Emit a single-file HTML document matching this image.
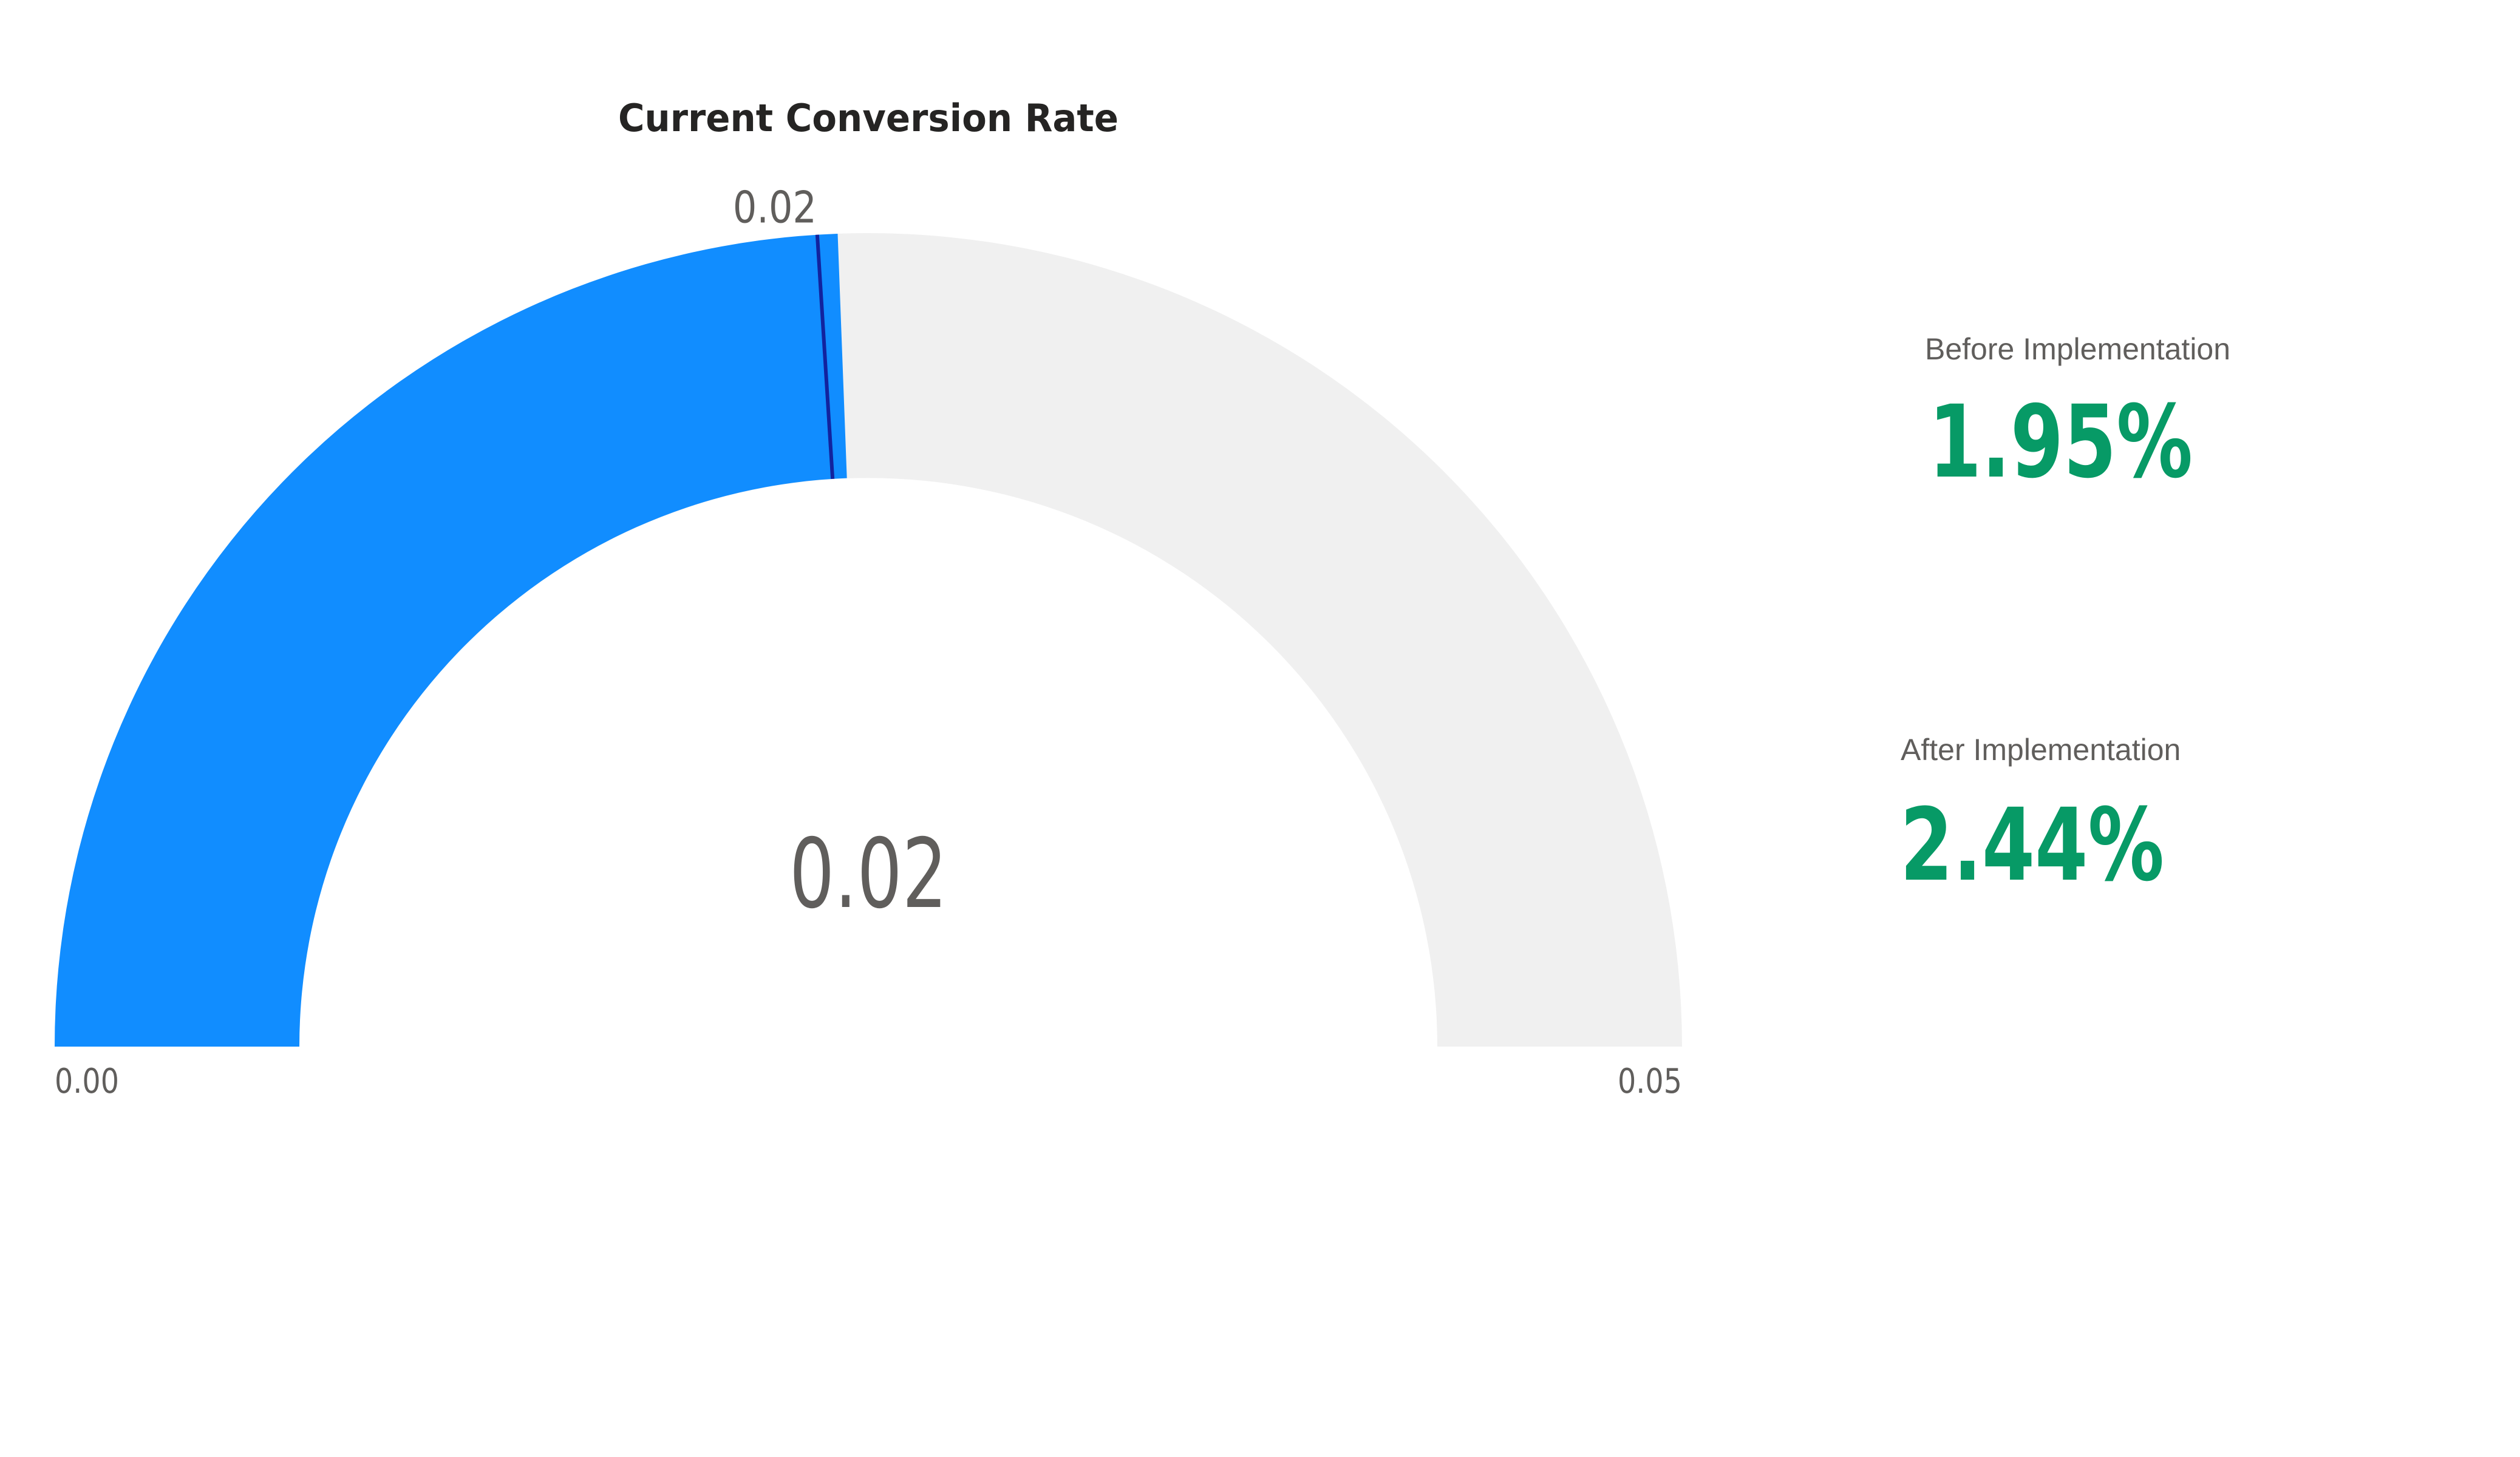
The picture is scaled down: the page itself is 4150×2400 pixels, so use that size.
<!DOCTYPE html>
<html><head><meta charset="utf-8"><style>
html,body{margin:0;padding:0;background:#fff;}
body{width:4150px;height:2400px;position:relative;overflow:hidden;font-family:"DejaVu Sans","Liberation Sans",sans-serif;}
.t{position:absolute;white-space:nowrap;transform-origin:0 0;}
</style></head><body>
<svg id="g" width="4150" height="2400" style="position:absolute;left:0;top:0">
<text x="1430" y="216" text-anchor="middle" font-family="DejaVu Sans, Liberation Sans, sans-serif" font-size="62" font-weight="bold" fill="#252423" textLength="824" lengthAdjust="spacingAndGlyphs">Current Conversion Rate</text>
</svg>
<div class="t" style="left:3170px;top:546px;font-size:50px;color:#605e5c;font-family:'Liberation Sans',sans-serif;">Before Implementation</div>
<div class="t" style="left:3176px;top:632px;font-size:165px;color:#079a66;font-weight:bold;font-family:'DejaVu Sans',sans-serif;transform:scaleX(0.76);">1.95%</div>
<div class="t" style="left:3130px;top:1206px;font-size:50px;color:#605e5c;font-family:'Liberation Sans',sans-serif;">After Implementation</div>
<div class="t" style="left:3129px;top:1296px;font-size:165px;color:#079a66;font-weight:bold;font-family:'DejaVu Sans',sans-serif;transform:scaleX(0.76);">2.44%</div>
<script>
const gaugeMin=[0];
const gaugeMax=[0.05];
const gaugeValue=[0.0244];
const gaugeTarget=[0.0240];
const valueLabel=["0.02"];
const targetLabel=["0.02"];
const tickLabels=["0.00","0.05"];
const NS="http://www.w3.org/2000/svg";
const svg=document.getElementById('g');
const cx=1430,cy=1724,R=1340,r=937;
function ang(v){return Math.PI*(1-(v-gaugeMin[0])/(gaugeMax[0]-gaugeMin[0]));}
function pt(a,rad){return [cx+rad*Math.cos(a),cy-rad*Math.sin(a)];}
function arc(v0,v1){const a0=ang(v0),a1=ang(v1);const p0=pt(a0,R),p1=pt(a1,R),q1=pt(a1,r),q0=pt(a0,r);
return `M${p0} A${R},${R} 0 0 1 ${p1} L${q1} A${r},${r} 0 0 0 ${q0} Z`;}
function mk(tag,at){const e=document.createElementNS(NS,tag);for(const k in at)e.setAttribute(k,at[k]);svg.appendChild(e);return e;}
const bg=mk('path',{d:arc(gaugeMin[0],gaugeMax[0]),fill:'#f0f0f0'});


const fg=mk('path',{d:arc(gaugeMin[0],gaugeValue[0]),fill:'#118dff'});


const ta=ang(gaugeTarget[0]);const t0=pt(ta,R),t1=pt(ta,r);
const tl=mk('line',{x1:t0[0],y1:t0[1],x2:t1[0],y2:t1[1],stroke:'#12239e','stroke-width':6});


const tt=mk('text',{x:t0[0]-70,y:t0[1]-20,'text-anchor':'middle','font-size':72,fill:'#605e5c','font-family':'DejaVu Sans, sans-serif',textLength:138,lengthAdjust:'spacingAndGlyphs'});
tt.textContent=targetLabel[0];


const cv=mk('text',{x:cx,y:1494,'text-anchor':'middle','font-size':158,fill:'#605e5c','font-family':'DejaVu Sans, sans-serif',textLength:260,lengthAdjust:'spacingAndGlyphs'});
cv.textContent=valueLabel[0];


const mn=mk('text',{x:cx-R,y:cy+76,'text-anchor':'start','font-size':56,fill:'#605e5c','font-family':'DejaVu Sans, sans-serif',textLength:106,lengthAdjust:'spacingAndGlyphs'});
mn.textContent=tickLabels[0];


const mx=mk('text',{x:cx+R,y:cy+76,'text-anchor':'end','font-size':56,fill:'#605e5c','font-family':'DejaVu Sans, sans-serif',textLength:106,lengthAdjust:'spacingAndGlyphs'});
mx.textContent=tickLabels[1];


</script>
</body></html>
